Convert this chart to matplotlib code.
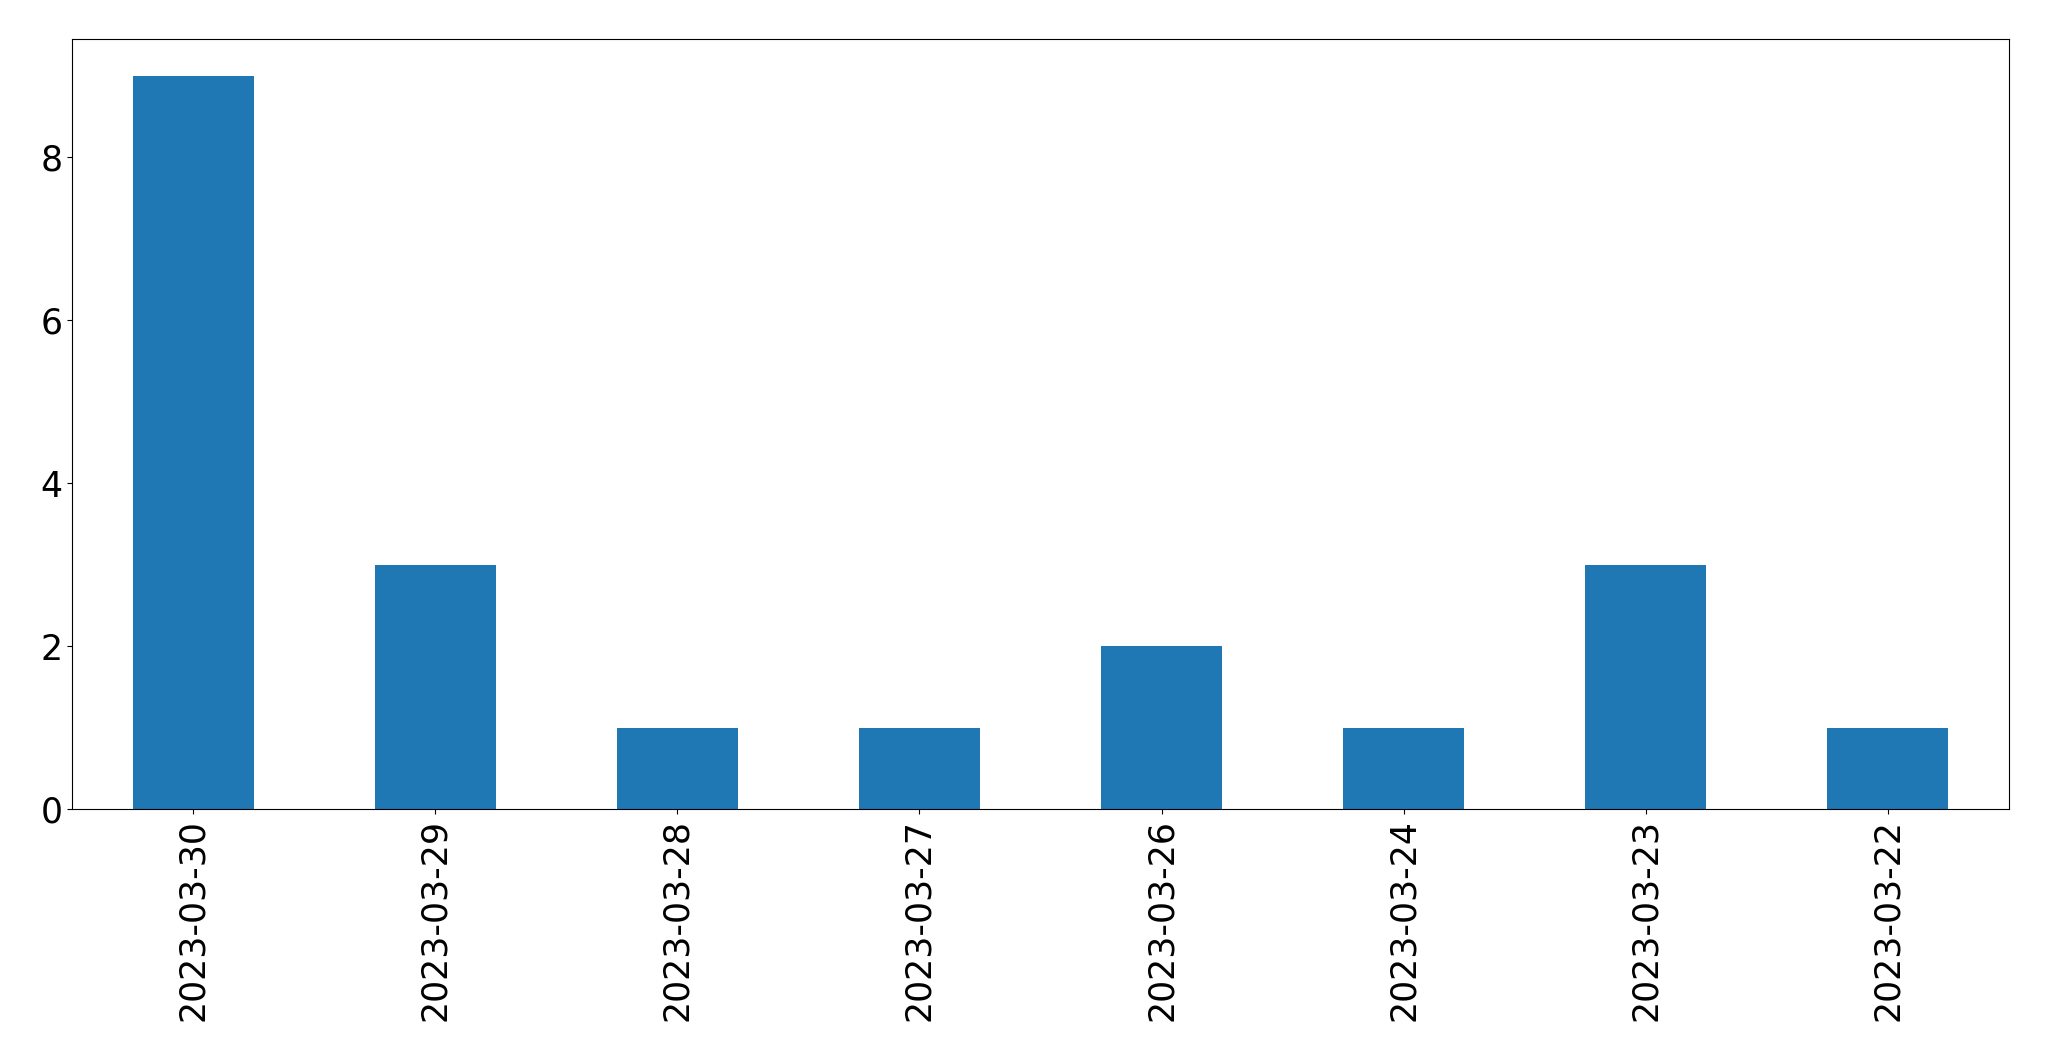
#!/usr/bin/env python3
"""Bar chart of counts per date (pandas-style bar plot)."""
import pandas as pd
import matplotlib
matplotlib.use('Agg')
import matplotlib.pyplot as plt

DATES = ['2023-03-30', '2023-03-29', '2023-03-28', '2023-03-27',
         '2023-03-26', '2023-03-24', '2023-03-23', '2023-03-22']
COUNTS = [9, 3, 1, 1, 2, 1, 3, 1]


def main():
    s = pd.Series(COUNTS, index=DATES)
    fig = plt.figure(figsize=(20.49, 10.61), dpi=100)
    ax = fig.add_axes([72 / 2049, 1 - 809 / 1061, (2009 - 72) / 2049, (809 - 39) / 1061])
    s.plot.bar(ax=ax, color='#1f77b4', fontsize=25)
    ax.tick_params(axis='both', labelsize=25)
    fig.savefig('out.png', dpi=100)
    plt.close(fig)


if __name__ == '__main__':
    main()
